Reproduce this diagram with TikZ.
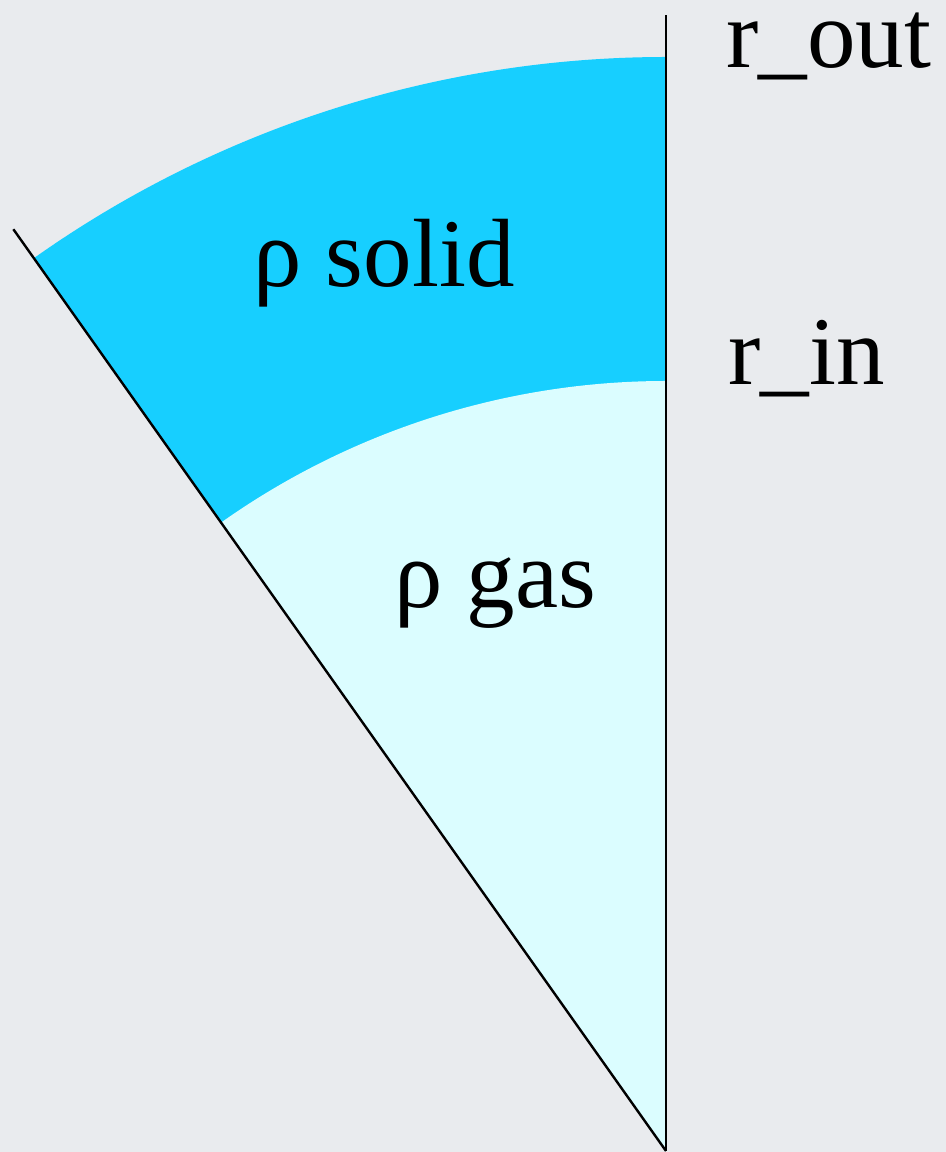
\documentclass[tikz,border=0pt]{standalone}
\usepackage{fontspec}
\setmainfont{Liberation Serif}
\definecolor{bgc}{HTML}{E9EBEE}
\definecolor{solidc}{HTML}{17CFFF}
\definecolor{gasc}{HTML}{DBFDFF}
\begin{document}
\begin{tikzpicture}[x=0.5pt,y=0.5pt,
  lbl/.style={font=\fontsize{48.5}{58}\selectfont, inner sep=0pt, text height=0.7em, text depth=0.22em},
  edge/.style={line width=1.2pt, black}]
\fill[bgc] (-666,-1) rectangle (280,1151);
\useasboundingbox (-666,-1) rectangle (280,1151);
\coordinate (O) at (0,0);
\coordinate (T) at (0,1136);
\coordinate (L) at (125.3:1129.5);
\fill[solidc] (O) -- (90:1094) arc[start angle=90, end angle=125.3, radius=1094] -- cycle;
\fill[gasc] (O) -- (90:770) arc[start angle=90, end angle=125.3, radius=770] -- cycle;
\draw[edge] (O) -- (T);
\draw[edge] (O) -- (L);
\node[lbl, anchor=base] (solid) at (-282,864) {ρ solid};
\node[lbl, anchor=base] (gas) at (-171,543) {ρ gas};
\node[lbl, anchor=base west] (rout) at (60,1083) {r\_out};
\node[lbl, anchor=base west] (rin) at (62,766) {r\_in};
\end{tikzpicture}
\end{document}
